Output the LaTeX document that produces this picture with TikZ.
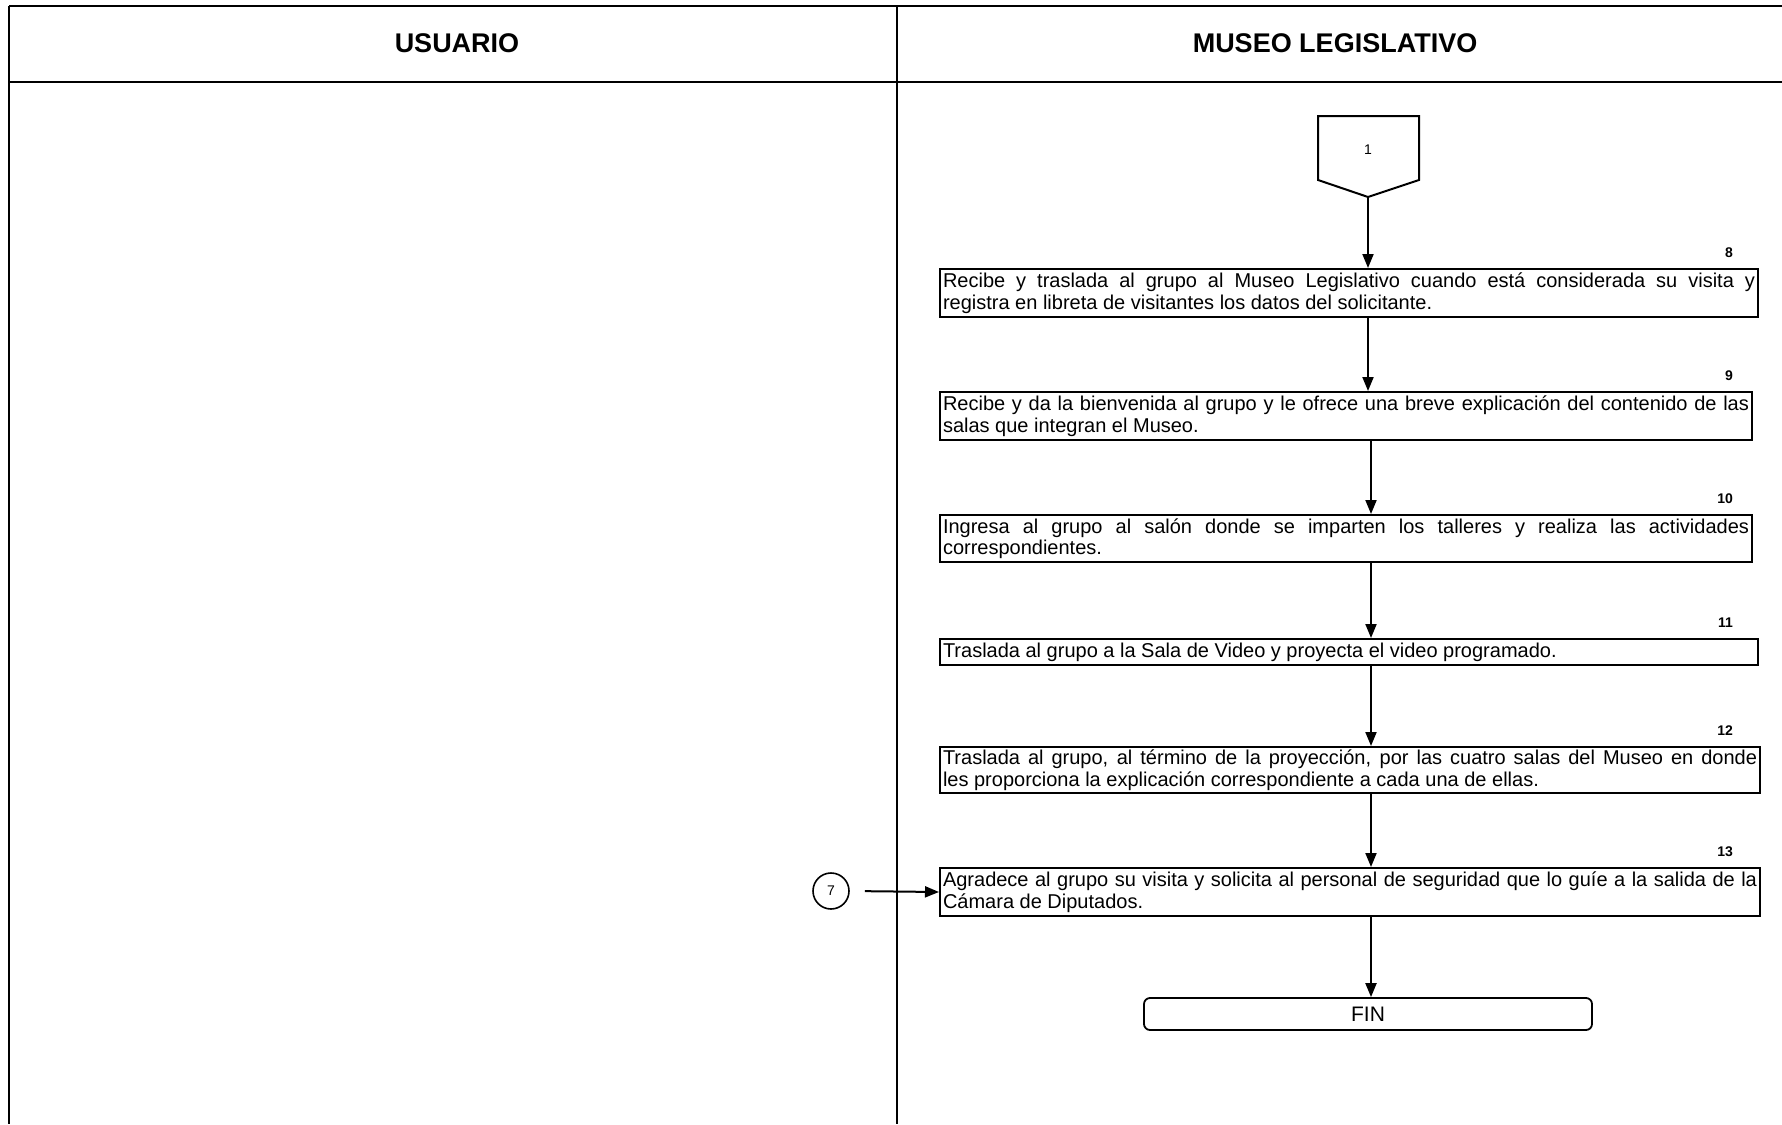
\documentclass[tikz,border=0pt]{standalone}
\usepackage{fontspec}
\setmainfont{Liberation Sans}
\usetikzlibrary{arrows.meta}
\begin{document}
\begin{tikzpicture}[x=1pt,y=-1pt,
  lane/.style={line width=1.6pt},
  rule/.style={line width=2.6pt},
  act/.style={draw,line width=2pt,anchor=north west,inner xsep=3pt,inner ysep=0pt,
    align=justify,font=\fontsize{20}{21.5}\selectfont},
  num/.style={anchor=east,inner sep=0pt,yshift=15pt,font=\bfseries\fontsize{14}{16}\selectfont},
  head/.style={font=\bfseries\fontsize{27}{30}\selectfont},
  flow/.style={line width=2pt,-{Triangle[width=11pt,length=14pt]}},
]
\useasboundingbox (0,0) rectangle (1782,1124);

% swimlane frame
\draw[rule] (9,6) -- (1782,6);
\draw[rule] (9,82) -- (1782,82);
\draw[lane] (9,6) -- (9,1124);
\draw[lane] (897,6) -- (897,1124);
\node[head] (hu) at (457,43) {USUARIO};
\node[head] (hm) at (1335,43) {MUSEO LEGISLATIVO};

% off-page connector 1
\draw[line width=2pt,line join=miter] (1318,116) -- (1419,116) -- (1419,180) -- (1368,197) -- (1318,180) -- cycle;
\node[font=\fontsize{14}{16}\selectfont] (c1) at (1368,150) {1};
\coordinate (c1tip) at (1368,197);
\coordinate (sp) at (1371,0);
\coordinate (numx) at (1733,0);

% activities
\node[act,text width=812pt,minimum height=48pt] (b8) at (939,268)
  {Recibe y traslada al grupo al Museo Legislativo cuando está considerada su visita y\linebreak
   registra en libreta de visitantes los datos del solicitante.};
\node[act,text width=806pt,minimum height=48pt] (b9) at (939,391)
  {Recibe y da la bienvenida al grupo y le ofrece una breve explicación del contenido de las\linebreak
   salas que integran el Museo.};
\node[act,text width=806pt,minimum height=47pt] (b10) at (939,514)
  {Ingresa al grupo al salón donde se imparten los talleres y realiza las actividades\linebreak
   correspondientes.};
\node[act,text width=812pt,minimum height=26pt] (b11) at (939,638)
  {Traslada al grupo a la Sala de Video y proyecta el video programado.};
\node[act,text width=814pt,minimum height=46pt] (b12) at (939,746)
  {Traslada al grupo, al término de la proyección, por las cuatro salas del Museo en donde\linebreak
   les proporciona la explicación correspondiente a cada una de ellas.};
\node[act,text width=814pt,minimum height=48pt] (b13) at (939,867)
  {Agradece al grupo su visita y solicita al personal de seguridad que lo guíe a la salida de la\linebreak
   Cámara de Diputados.};

% step numbers
\node[num] (n8) at (b8.north -| numx) {8};
\node[num] (n9) at (b9.north -| numx) {9};
\node[num] (n10) at (b10.north -| numx) {10};
\node[num] (n11) at (b11.north -| numx) {11};
\node[num] (n12) at (b12.north -| numx) {12};
\node[num] (n13) at (b13.north -| numx) {13};

% end terminal
\node[draw,line width=1.8pt,rounded corners=6pt,minimum width=448pt,minimum height=32pt,
  font=\fontsize{21}{24}\selectfont] (fin) at (1368,1014) {FIN};

% connector from step 7
\node[draw,circle,line width=1.6pt,minimum size=36pt,inner sep=0pt,
  font=\fontsize{14}{16}\selectfont] (c7) at (831,891) {7};

% flow
\draw[flow] (c1tip) -- (c1tip |- b8.north);
\draw[flow] (b8.south -| c1tip) -- (b9.north -| c1tip);
\draw[flow] (b9.south -| sp) -- (b10.north -| sp);
\draw[flow] (b10.south -| sp) -- (b11.north -| sp);
\draw[flow] (b11.south -| sp) -- (b12.north -| sp);
\draw[flow] (b12.south -| sp) -- (b13.north -| sp);
\draw[flow] (b13.south -| sp) -- (fin.north -| sp);
\draw[flow,shorten <=15pt] (c7.east) -- (b13.west);
\end{tikzpicture}
\end{document}
